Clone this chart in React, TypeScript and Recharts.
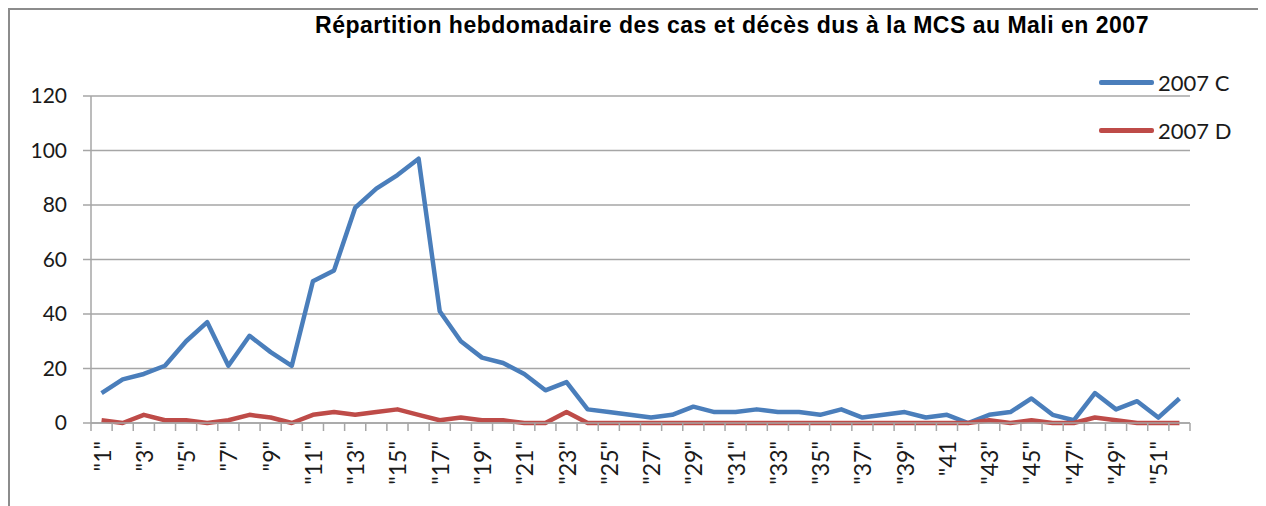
import React from 'react';
import { LineChart, Line, XAxis, YAxis, CartesianGrid } from 'recharts';

const weeks = [
  '"1"', '"2"', '"3"', '"4"', '"5"', '"6"', '"7"', '"8"', '"9"', '"10"',
  '"11"', '"12"', '"13"', '"14"', '"15"', '"16"', '"17"', '"18"', '"19"', '"20"',
  '"21"', '"22"', '"23"', '"24"', '"25"', '"26"', '"27"', '"28"', '"29"', '"30"',
  '"31"', '"32"', '"33"', '"34"', '"35"', '"36"', '"37"', '"38"', '"39"', '"40"',
  '"41', '"42"', '"43"', '"44"', '"45"', '"46"', '"47"', '"48"', '"49"', '"50"',
  '"51"', '"52"',
];

const cases2007 = [
  11, 16, 18, 21, 30, 37, 21, 32, 26, 21,
  52, 56, 79, 86, 91, 97, 41, 30, 24, 22,
  18, 12, 15, 5, 4, 3, 2, 3, 6, 4,
  4, 5, 4, 4, 3, 5, 2, 3, 4, 2,
  3, 0, 3, 4, 9, 3, 1, 11, 5, 8,
  2, 9,
];

const deaths2007 = [
  1, 0, 3, 1, 1, 0, 1, 3, 2, 0,
  3, 4, 3, 4, 5, 3, 1, 2, 1, 1,
  0, 0, 4, 0, 0, 0, 0, 0, 0, 0,
  0, 0, 0, 0, 0, 0, 0, 0, 0, 0,
  0, 0, 1, 0, 1, 0, 0, 2, 1, 0,
  0, 0,
];

const yTicks = [0, 20, 40, 60, 80, 100, 120];

const seriesNames = { c: '2007 C', d: '2007 D' };
const BLUE = '#4a7ebb';
const RED = '#be4b48';
const GRID = '#a6a6a6';

const data = weeks.map((w, i) => ({ week: w, c: cases2007[i], d: deaths2007[i] }));

const WeekTick = (props: any) => {
  const { x, y, payload } = props;
  const i = payload?.index ?? props.index;
  const half = payload?.offset ?? 1099 / 52 / 2;
  return (
    <g>
      <line x1={x - half} x2={x - half} y1={y - 8} y2={y} stroke={GRID} strokeWidth={1.5} />
      {i === weeks.length - 1 && (
        <line x1={x + half} x2={x + half} y1={y - 8} y2={y} stroke={GRID} strokeWidth={1.5} />
      )}
      {i % 2 === 0 && (
        <text
          x={x}
          y={y + 10}
          transform={`rotate(-90 ${x} ${y + 10})`}
          textAnchor="end"
          dominantBaseline="central"
          fontFamily="Lato, sans-serif"
          fontSize={23}
          fill="#1a1a1a"
        >
          {payload.value}
        </text>
      )}
    </g>
  );
};

// legend drawn as plain html over the chart so it doesn't eat plot space
function LegendBox() {
  const items = [
    { name: seriesNames.c, color: BLUE },
    { name: seriesNames.d, color: RED },
  ];
  return (
    <div
      style={{
        position: 'absolute',
        left: 1089,
        top: 48,
        fontFamily: 'Lato, sans-serif',
        fontSize: 22,
        color: '#1a1a1a',
        zIndex: 2,
      }}
    >
      {items.map((s) => (
        <div key={s.name} style={{ height: 48, display: 'flex', alignItems: 'center' }}>
          <span style={{ display: 'inline-block', width: 55, height: 5, borderRadius: 2, background: s.color, marginRight: 4 }} />
          <span>{s.name}</span>
        </div>
      ))}
    </div>
  );
}

export default function App() {
  return (
    <div
      style={{
        position: 'relative',
        width: 1250,
        height: 520,
        border: '2px solid #8c8c8c',
        background: '#fff',
      }}
    >
      <div
        style={{
          position: 'absolute',
          top: 4,
          left: 0,
          width: 1444,
          textAlign: 'center',
          fontFamily: '"Liberation Sans", Arial, sans-serif',
          fontWeight: 'bold',
          fontSize: 23,
          letterSpacing: 0.5,
          lineHeight: '23px',
          color: '#000',
          zIndex: 2,
          pointerEvents: 'none',
        }}
      >
        Répartition hebdomadaire des cas et décès dus à la MCS au Mali en 2007
      </div>
      <LegendBox />
      <LineChart
        width={1250}
        height={496}
        data={data}
        margin={{ top: 86, right: 70, bottom: 0, left: 0 }}
      >
        <CartesianGrid vertical={false} stroke={GRID} strokeWidth={1.5} />
        <XAxis
          dataKey="week"
          scale="band"
          interval={0}
          height={83}
          tickSize={8}
          tickMargin={0}
          tickLine={false}
          axisLine={{ stroke: GRID, strokeWidth: 1.5 }}
          tick={<WeekTick />}
        />
        <YAxis
          width={81}
          domain={[0, 120]}
          ticks={yTicks}
          interval={0}
          tickSize={8}
          tickMargin={16}
          axisLine={{ stroke: GRID, strokeWidth: 1.5 }}
          tickLine={{ stroke: GRID, strokeWidth: 1.5 }}
          tick={{ fontFamily: 'Lato, sans-serif', fontSize: 21, fill: '#1a1a1a' }}
        />
        <Line
          type="linear"
          dataKey="c"
          name={seriesNames.c}
          stroke={BLUE}
          strokeWidth={4.5}
          strokeLinejoin="round"
          dot={false}
          activeDot={false}
          isAnimationActive={false}
        />
        <Line
          type="linear"
          dataKey="d"
          name={seriesNames.d}
          stroke={RED}
          strokeWidth={4.5}
          strokeLinejoin="round"
          dot={false}
          activeDot={false}
          isAnimationActive={false}
        />
      </LineChart>
    </div>
  );
}
